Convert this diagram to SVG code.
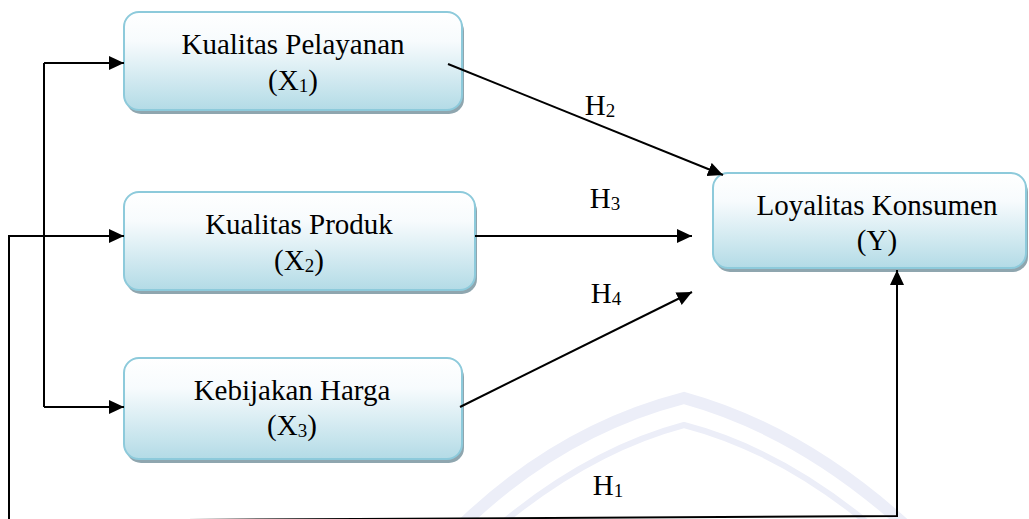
<svg xmlns="http://www.w3.org/2000/svg" width="1029" height="519" viewBox="0 0 1029 519">
  <defs>
    <linearGradient id="boxFill" x1="0" y1="0" x2="0" y2="1">
      <stop offset="0" stop-color="#ffffff"/>
      <stop offset="0.3" stop-color="#f7fbfd"/>
      <stop offset="1" stop-color="#b3dbe6"/>
    </linearGradient>
    <marker id="arrow" markerUnits="userSpaceOnUse" markerWidth="16" markerHeight="15" refX="15" refY="7" orient="auto">
      <path d="M0,0 L15,7 L0,14 z" fill="#000"/>
    </marker>
    <style>
      .shadow { fill: #8fa6af; }
      .box { fill: url(#boxFill); stroke: #8dcadb; stroke-width: 2; }
      .lbl { font-size: 29px; fill: #000; text-anchor: middle; }
      .sub { font-size: 19px; }
      .conn { fill: none; stroke: #000; stroke-width: 2; }
      .wm { fill: none; stroke: #eceef8; }
    </style>
  </defs>
  <rect width="1029" height="519" fill="#ffffff"/>

  <g id="watermark">
    <path class="wm" stroke-width="12" d="M462,525 Q560,430 684,398 Q800,430 905,525"/>
    <path class="wm" stroke-width="6" d="M500,525 Q590,450 684,425 Q780,450 870,525"/>
  </g>

  <g font-family="Liberation Serif, Times New Roman, DejaVu Serif, serif">
  <g id="node-x1">
    <rect class="shadow" x="126" y="16" width="338" height="98" rx="15"/>
    <rect class="box" x="124" y="12" width="338" height="98" rx="15"/>
    <text class="lbl" x="293" y="54">Kualitas Pelayanan</text>
    <text class="lbl" x="293" y="90">(X<tspan class="sub" dy="2">1</tspan><tspan dy="-2">)</tspan></text>
  </g>

  <g id="node-x2">
    <rect class="shadow" x="126" y="196" width="351" height="98" rx="15"/>
    <rect class="box" x="124" y="192" width="351" height="98" rx="15"/>
    <text class="lbl" x="299" y="234">Kualitas Produk</text>
    <text class="lbl" x="299" y="270">(X<tspan class="sub" dy="2">2</tspan><tspan dy="-2">)</tspan></text>
  </g>

  <g id="node-x3">
    <rect class="shadow" x="126" y="362" width="338" height="101" rx="15"/>
    <rect class="box" x="124" y="358" width="338" height="101" rx="15"/>
    <text class="lbl" x="292" y="400">Kebijakan Harga</text>
    <text class="lbl" x="292" y="435">(X<tspan class="sub" dy="2">3</tspan><tspan dy="-2">)</tspan></text>
  </g>

  <g id="node-y">
    <rect class="shadow" x="715" y="177" width="313" height="95" rx="15"/>
    <rect class="box" x="713" y="173" width="313" height="95" rx="15"/>
    <text class="lbl" x="877" y="215">Loyalitas Konsumen</text>
    <text class="lbl" x="877" y="250">(Y)</text>
  </g>

  <g id="hyp-labels">
    <text class="lbl" x="600" y="115">H<tspan class="sub" dy="2">2</tspan></text>
    <text class="lbl" x="605" y="208">H<tspan class="sub" dy="2">3</tspan></text>
    <text class="lbl" x="606" y="303">H<tspan class="sub" dy="2">4</tspan></text>
    <text class="lbl" x="608" y="495">H<tspan class="sub" dy="2">1</tspan></text>
  </g>
  </g>

  <g id="connectors">
    <path class="conn" d="M44,63 L44,407"/>
    <path class="conn" d="M44,63 L124,63" marker-end="url(#arrow)"/>
    <path class="conn" d="M44,407 L124,407" marker-end="url(#arrow)"/>
    <path class="conn" d="M9,521 L9,236 L124,236" marker-end="url(#arrow)"/>
    <path class="conn" d="M9,521 L897,516 L897,270" marker-end="url(#arrow)"/>
    <path class="conn" d="M448,64 L723,175" marker-end="url(#arrow)"/>
    <path class="conn" d="M475,236 L692,236" marker-end="url(#arrow)"/>
    <path class="conn" d="M460,407 L692,292" marker-end="url(#arrow)"/>
  </g>
</svg>
